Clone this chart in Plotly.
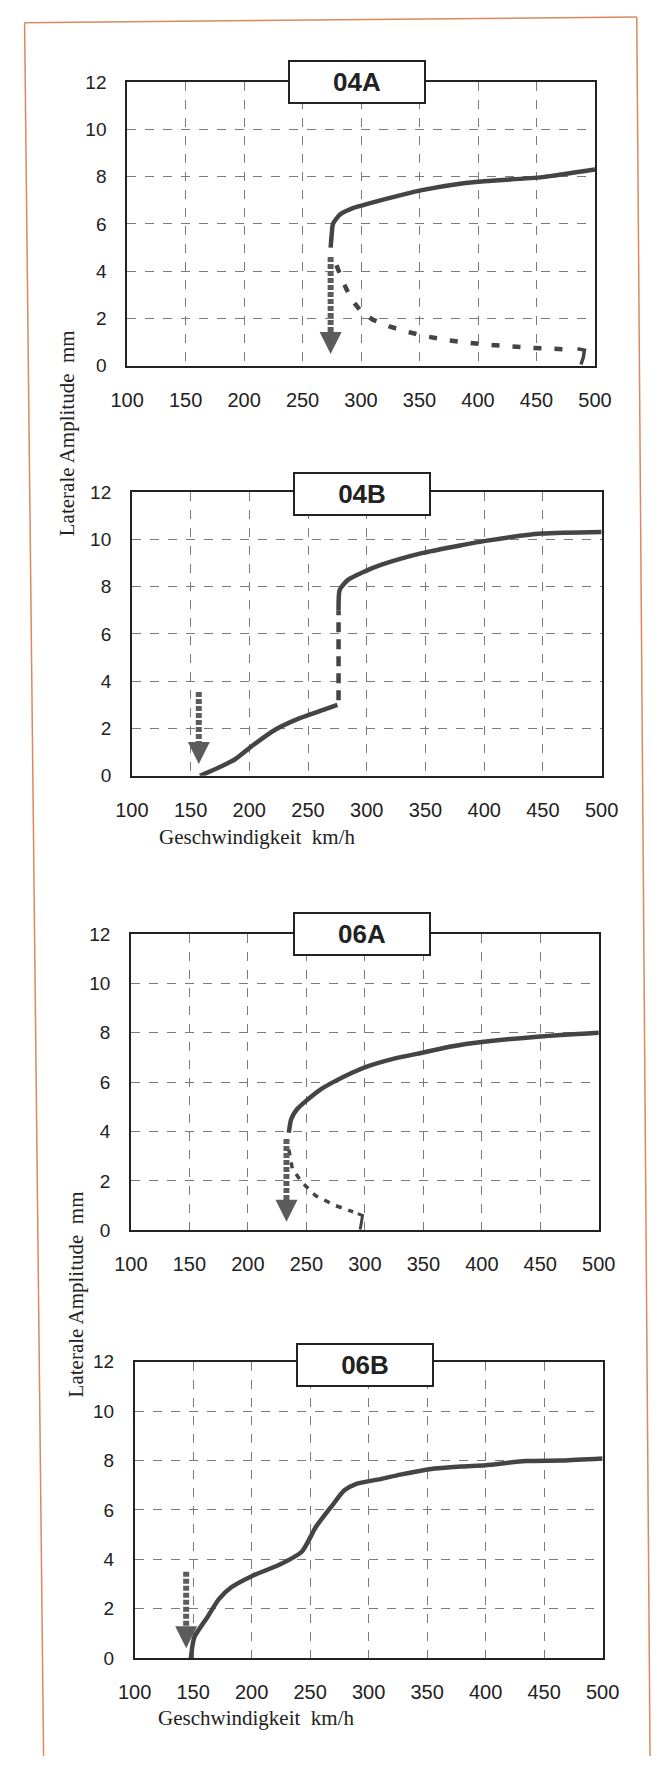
import plotly.graph_objects as go

W, H = 668, 1767

# ---------------- data ----------------
x_ticks = [100, 150, 200, 250, 300, 350, 400, 450, 500]
y_ticks = [0, 2, 4, 6, 8, 10, 12]
panel_titles = ["04A", "04B", "06A", "06B"]

# 04A
a04_stable_x = [274, 275, 276, 282, 293, 307, 334, 352, 386, 403, 455, 500]
a04_stable_y = [5.0, 5.6, 6.0, 6.4, 6.67, 6.87, 7.22, 7.43, 7.71, 7.8, 7.98, 8.3]
a04_unstable_x = [279, 285, 292, 300, 310, 325, 340, 355, 375, 405, 445, 482]
a04_unstable_y = [4.25, 3.5, 2.8, 2.3, 1.95, 1.65, 1.43, 1.25, 1.07, 0.9, 0.76, 0.68]
a04_hook_x = [485, 491, 490, 488]
a04_hook_y = [0.72, 0.66, 0.35, 0.05]
a04_arrow = dict(x=274, top=4.6, tip=0.5)

# 04B
b04_lower_x = [158, 174, 188, 202, 222, 243, 263, 275]
b04_lower_y = [0.0, 0.35, 0.7, 1.25, 1.95, 2.44, 2.79, 3.0]
b04_jump_x = [276, 276]
b04_jump_y = [3.2, 7.0]
b04_upper_x = [276, 277, 284, 298, 312, 346, 381, 401, 449, 500]
b04_upper_y = [7.0, 7.87, 8.29, 8.64, 8.92, 9.41, 9.76, 9.94, 10.25, 10.32]
b04_arrow = dict(x=157, top=3.55, tip=0.5)

# 06A
a06_stable_x = [235, 237, 242, 250, 262, 275, 290, 300, 325, 350, 375, 400, 450, 500]
a06_stable_y = [3.95, 4.5, 4.9, 5.25, 5.7, 6.05, 6.4, 6.6, 6.95, 7.2, 7.45, 7.62, 7.85, 8.0]
a06_unstable_x = [235, 238, 246, 258, 275, 290]
a06_unstable_y = [3.27, 2.5, 1.95, 1.4, 1.0, 0.75]
a06_hook_x = [294, 298, 297, 296]
a06_hook_y = [0.68, 0.6, 0.3, 0.03]
a06_arrow = dict(x=233, top=3.7, tip=0.35)

# 06B
b06_x = [148, 151, 162, 172, 182, 200, 224, 243, 255, 269, 279, 289, 310, 327, 352, 379, 400, 434, 466, 500]
b06_y = [0.0, 0.85, 1.65, 2.39, 2.85, 3.32, 3.79, 4.32, 5.32, 6.19, 6.79, 7.05, 7.25, 7.43, 7.65, 7.76, 7.81, 7.98, 8.0, 8.08]
b06_arrow = dict(x=144, top=3.5, tip=0.4)

x_title = "Geschwindigkeit\u00a0\u00a0km/h"
y_title = "Laterale Amplitude\u00a0\u00a0mm"

# ---------------- layout geometry (pixels) ----------------
panels_px = [  # left, right, top, bottom
    (116, 609, 73, 360),
    (121, 616, 488, 775),
    (120, 613, 935, 1235),
    (124, 617, 1368, 1668),
]
title_px = [(358, 73), (363, 490), (364, 935), (367, 1371)]


def px(x):
    return x / W


def py(y):
    return 1 - y / H


CURVE = "#444444"
ARROW = "#5c5c5c"
SANS = "Liberation Sans, Arial, sans-serif"
SERIF = "Liberation Serif, Times New Roman, serif"

fig = go.Figure()


def add_line(i, xs, ys, dash="solid", width=4.5, color=CURVE, shape="spline"):
    suffix = "" if i == 0 else str(i + 1)
    line = dict(color=color, width=width, dash=dash, shape=shape)
    if shape == "spline":
        line["smoothing"] = 0.6
    fig.add_trace(go.Scatter(
        x=xs, y=ys, mode="lines", xaxis="x" + suffix, yaxis="y" + suffix,
        line=line, showlegend=False, hoverinfo="skip"))


def add_arrow(i, arr):
    suffix = "" if i == 0 else str(i + 1)
    l, r, t, b = panels_px[i]
    per_unit = (b - t) / 12.0
    head_top = arr["tip"] + 20 / per_unit
    fig.add_trace(go.Scatter(
        x=[arr["x"], arr["x"]], y=[arr["top"], head_top], mode="lines",
        xaxis="x" + suffix, yaxis="y" + suffix,
        line=dict(color=ARROW, width=6, dash="5px,2px"),
        showlegend=False, hoverinfo="skip"))
    fig.add_trace(go.Scatter(
        x=[arr["x"]], y=[arr["tip"]], mode="markers",
        xaxis="x" + suffix, yaxis="y" + suffix,
        marker=dict(symbol="arrow-down", size=22, color=ARROW, line=dict(width=0)),
        showlegend=False, hoverinfo="skip"))


# panel 1: 04A
add_line(0, a04_stable_x, a04_stable_y)
add_line(0, a04_unstable_x, a04_unstable_y, dash="8px,13px", width=4.5, shape="linear")
add_line(0, a04_hook_x, a04_hook_y, width=3.5, shape="linear")
add_arrow(0, a04_arrow)
# panel 2: 04B
add_line(1, b04_lower_x, b04_lower_y)
add_line(1, b04_jump_x, b04_jump_y, dash="10px,7px", width=4.5, shape="linear")
add_line(1, b04_upper_x, b04_upper_y)
add_arrow(1, b04_arrow)
# panel 3: 06A
add_line(2, a06_stable_x, a06_stable_y)
add_line(2, a06_unstable_x, a06_unstable_y, dash="6px,7px", width=3.5, shape="linear")
add_line(2, a06_hook_x, a06_hook_y, width=3, shape="linear")
add_arrow(2, a06_arrow)
# panel 4: 06B
add_line(3, b06_x, b06_y)
add_arrow(3, b06_arrow)

layout = dict(
    width=W, height=H, margin=dict(l=0, r=0, t=0, b=0),
    paper_bgcolor="white", plot_bgcolor="white", showlegend=False,
)

annotations = []
for i, (l, r, t, b) in enumerate(panels_px):
    suffix = "" if i == 0 else str(i + 1)
    xa = dict(
        domain=[px(l), px(r)], range=[100, 500], tickvals=x_ticks,
        anchor="y" + suffix, showgrid=True, griddash="dash", gridcolor="#7a7a7a",
        gridwidth=1, showline=True, mirror=True, linecolor="#222222", linewidth=1.6,
        zeroline=False, ticks="", ticklabelstandoff=15,
        tickfont=dict(family=SANS, size=20, color="#222222"),
    )
    ya = dict(
        domain=[py(b), py(t)], range=[0, 12], tickvals=y_ticks,
        anchor="x" + suffix, showgrid=True, griddash="dash", gridcolor="#7a7a7a",
        gridwidth=1, showline=True, mirror=True, linecolor="#222222", linewidth=1.6,
        zeroline=False, ticks="", ticklabelstandoff=15,
        tickfont=dict(family=SANS, size=19, color="#222222"),
    )
    layout["xaxis" + suffix] = xa
    layout["yaxis" + suffix] = ya
    cx, cy = title_px[i]
    annotations.append(dict(
        x=px(cx), y=py(cy), xref="paper", yref="paper", text="<b>%s</b>" % panel_titles[i],
        showarrow=False, xanchor="center", yanchor="middle",
        font=dict(family=SANS, size=26, color="#222222"),
        bgcolor="white", bordercolor="#222222", borderwidth=2, borderpad=0,
        width=134, height=40,
    ))

# axis titles
for (cx, cy) in [(53, 428), (62, 1300)]:
    annotations.append(dict(x=px(cx), y=py(cy), xref="paper", yref="paper", text=y_title,
                            textangle=-90, showarrow=False, xanchor="center", yanchor="middle",
                            font=dict(family=SERIF, size=21, color="#222222")))
for (cx, cy) in [(253, 837), (252, 1729)]:
    annotations.append(dict(x=px(cx), y=py(cy), xref="paper", yref="paper", text=x_title,
                            showarrow=False, xanchor="center", yanchor="middle",
                            font=dict(family=SERIF, size=21, color="#222222")))
layout["annotations"] = annotations

# scanned orange page frame
FRAME = "#d98a5f"
layout["shapes"] = [
    dict(type="line", xref="paper", yref="paper", x0=px(8), y0=py(13), x1=px(653), y1=py(7),
         line=dict(color=FRAME, width=1.5)),
    dict(type="line", xref="paper", yref="paper", x0=px(8), y0=py(13), x1=px(28), y1=py(1767),
         line=dict(color=FRAME, width=1.5)),
    dict(type="line", xref="paper", yref="paper", x0=px(653), y0=py(7), x1=px(667), y1=py(1767),
         line=dict(color=FRAME, width=1.5)),
]

fig.update_layout(**layout)
fig.write_html("out.html")
